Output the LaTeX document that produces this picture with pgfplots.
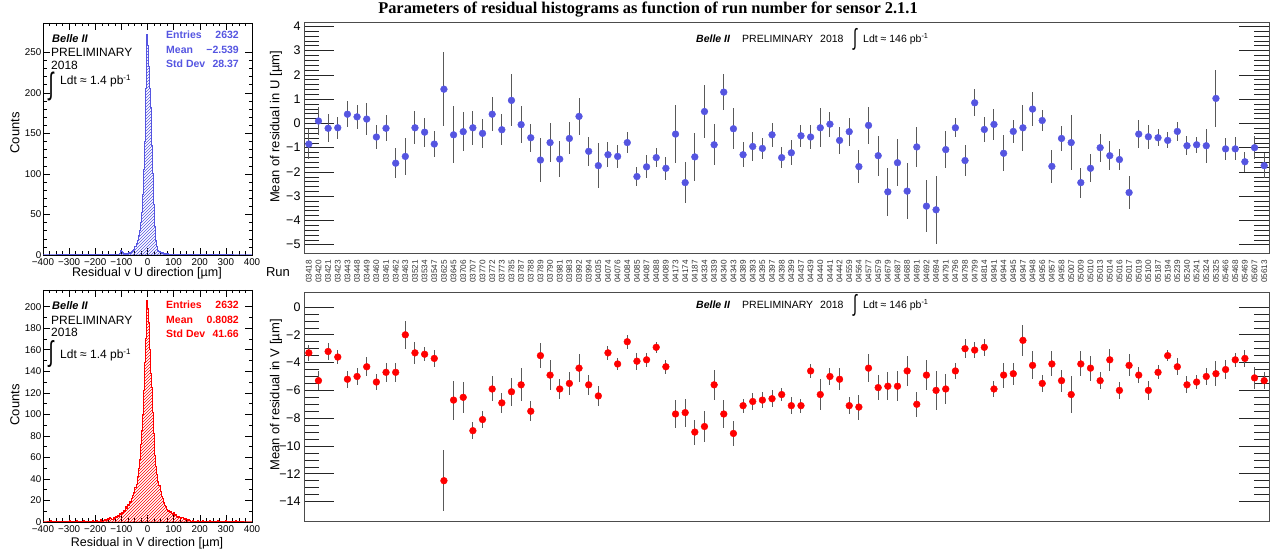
\documentclass[border=0pt]{standalone}
\usepackage{fontspec}
\setmainfont{Liberation Sans}
\newfontfamily\titlefont{Liberation Serif}
\usepackage{graphicx}
\usepackage{pgfplots}
\pgfplotsset{compat=1.18}
\usepackage{pgfplotstable}
\usetikzlibrary{patterns}
\definecolor{ublue}{RGB}{85,85,225}
\definecolor{vred}{RGB}{255,0,0}

\pgfplotstableread{
i v e
0 -0.85 0.60
1 0.10 0.57
2 -0.20 0.58
3 -0.18 0.45
4 0.38 0.53
5 0.27 0.49
6 0.18 0.65
7 -0.56 0.51
8 -0.20 0.53
9 -1.64 0.62
10 -1.36 0.77
11 -0.18 0.68
12 -0.36 0.60
13 -0.85 0.55
14 1.41 1.53
15 -0.47 1.18
16 -0.34 0.80
17 -0.18 0.69
18 -0.41 0.59
19 0.38 0.70
20 -0.26 0.63
21 0.95 1.07
22 -0.05 0.75
23 -0.59 0.58
24 -1.51 0.92
25 -0.79 0.79
26 -1.47 0.75
27 -0.62 0.66
28 0.29 0.77
29 -1.15 0.59
30 -1.74 0.94
31 -1.29 0.51
32 -1.36 0.46
33 -0.79 0.44
34 -2.19 0.39
35 -1.79 0.47
36 -1.41 0.38
37 -1.85 0.48
38 -0.44 1.18
39 -2.44 0.84
40 -1.38 0.98
41 0.49 1.08
42 -0.88 0.84
43 1.29 0.74
44 -0.22 0.85
45 -1.29 0.52
46 -0.95 0.61
47 -1.03 0.44
48 -0.47 0.50
49 -1.41 0.44
50 -1.21 0.52
51 -0.51 0.45
52 -0.56 0.51
53 -0.18 0.81
54 -0.03 0.51
55 -0.70 0.55
56 -0.34 0.58
57 -1.78 0.67
58 -0.08 0.77
59 -1.33 0.82
60 -2.82 0.99
61 -1.62 0.96
62 -2.79 1.16
63 -0.97 0.84
64 -3.41 1.07
65 -3.56 1.40
66 -1.08 0.77
67 -0.18 0.40
68 -1.53 0.62
69 0.85 0.56
70 -0.25 0.52
71 -0.04 0.63
72 -1.23 0.74
73 -0.33 0.47
74 -0.18 0.95
75 0.59 0.70
76 0.12 0.45
77 -1.77 0.67
78 -0.62 0.51
79 -0.79 1.14
80 -2.44 0.62
81 -1.85 0.58
82 -1.00 0.58
83 -1.33 0.60
84 -1.49 0.42
85 -2.85 0.68
86 -0.44 0.58
87 -0.55 0.50
88 -0.59 0.34
89 -0.70 0.33
90 -0.33 0.40
91 -0.92 0.39
92 -0.88 0.34
93 -0.92 0.71
94 1.03 1.16
95 -1.05 0.45
96 -1.05 0.47
97 -1.58 0.41
98 -1.00 0.47
99 -1.74 0.51
}\Udata

\pgfplotstableread{
i v e
0 -3.3 0.6
1 -5.3 0.7
2 -3.2 0.6
3 -3.6 0.5
4 -5.2 0.6
5 -5.0 0.6
6 -4.3 0.7
7 -5.4 0.6
8 -4.7 0.7
9 -4.7 0.7
10 -2.0 1.0
11 -3.3 0.8
12 -3.4 0.5
13 -3.7 0.6
14 -12.5 2.2
15 -6.7 1.4
16 -6.5 1.1
17 -8.9 0.6
18 -8.1 0.6
19 -5.9 0.9
20 -6.9 0.7
21 -6.1 1.0
22 -5.6 1.2
23 -7.5 0.7
24 -3.5 0.9
25 -4.9 1.1
26 -5.9 0.7
27 -5.5 0.8
28 -4.4 1.0
29 -5.6 0.7
30 -6.4 0.7
31 -3.3 0.5
32 -4.1 0.4
33 -2.5 0.5
34 -3.9 0.6
35 -3.8 0.5
36 -2.9 0.4
37 -4.3 0.5
38 -7.7 1.0
39 -7.6 1.0
40 -9.0 0.9
41 -8.6 1.1
42 -5.6 1.1
43 -7.7 1.0
44 -9.1 0.9
45 -7.1 0.5
46 -6.8 0.6
47 -6.7 0.6
48 -6.6 0.6
49 -6.3 0.5
50 -7.1 0.6
51 -7.1 0.5
52 -4.6 0.5
53 -6.3 1.1
54 -5.0 0.6
55 -5.2 0.8
56 -7.1 0.6
57 -7.2 0.9
58 -4.4 1.0
59 -5.8 0.9
60 -5.7 1.0
61 -5.7 1.1
62 -4.6 1.1
63 -7.0 0.9
64 -4.9 1.1
65 -6.0 1.4
66 -5.9 1.1
67 -4.6 0.6
68 -3.0 0.7
69 -3.1 0.6
70 -2.9 0.6
71 -5.9 0.6
72 -4.9 0.9
73 -4.8 0.8
74 -2.4 1.1
75 -4.2 1.0
76 -5.5 0.6
77 -4.1 0.9
78 -5.3 0.8
79 -6.3 1.3
80 -4.1 0.9
81 -4.4 0.9
82 -5.3 0.6
83 -3.8 0.8
84 -6.0 0.6
85 -4.2 0.8
86 -4.9 0.6
87 -6.0 0.7
88 -4.7 0.5
89 -3.5 0.4
90 -4.3 0.6
91 -5.6 0.6
92 -5.4 0.5
93 -5.0 0.6
94 -4.8 0.9
95 -4.5 0.7
96 -3.8 0.5
97 -3.7 0.6
98 -5.1 0.8
99 -5.3 0.6
}\Vdata

\pgfplotsset{
  rightplot/.style={
    anchor=south west, scale only axis, width=965pt,
    xmin=-0.5, xmax=99.5, xtick={0,...,99},
    xtick style={draw=none},
    major tick length=30pt, minor tick length=15pt,
    axis line style={black!70, line width=0.9pt},
    y tick style={black!85, line width=0.6pt},
    y tick label style={font=\fontsize{12.5}{13}\selectfont},
  },
  histplot/.style={
    anchor=south west, scale only axis, width=209pt, height=232pt,
    xmin=-400, xmax=400,
    xtick={-400,-300,...,400},
    xticklabels={−400,−300,−200,−100,0,100,200,300,400},
    minor x tick num=3, minor y tick num=4,
    major tick length=7pt, minor tick length=3.5pt,
    tick label style={font=\fontsize{9.8}{10}\selectfont},
    yticklabel style={inner sep=1.5pt},
    axis line style={black, line width=0.6pt},
    tick style={black, line width=0.5pt},
  },
}

\newcommand{\bigint}[2]{\resizebox*{#1}{#2}{∫}}

\begin{document}
\begin{tikzpicture}[x=1pt,y=1pt]
\path[use as bounding box] (0,0) rectangle (1276,553);

% ---------- top right: mean U ----------
\begin{axis}[rightplot, at={(304pt,300pt)}, height=231pt,
  ymin=-5.34, ymax=4.18, ytick={-5,...,4},
  yticklabels={−5,−4,−3,−2,−1,0,1,2,3,4},
  minor y tick num=4,
  xticklabels={03418,03420,03421,03423,03443,03448,03449,03460,03461,03462,03463,03521,03534,03547,03625,03645,03706,03707,03770,03772,03773,03785,03787,03788,03789,03790,03981,03983,03992,03994,04035,04074,04076,04084,04085,04087,04088,04089,04173,04174,04187,04334,04339,04340,04343,04389,04393,04395,04397,04398,04399,04437,04439,04440,04441,04442,04559,04564,04577,04579,04679,04687,04688,04691,04692,04694,04791,04796,04798,04799,04814,04941,04944,04945,04947,04948,04956,04957,04958,05007,05009,05010,05013,05014,05016,05017,05019,05100,05187,05194,05239,05240,05241,05324,05325,05466,05468,05469,05607,05613},
  xticklabel style={rotate=90, anchor=east, inner sep=0pt, font=\fontsize{8.2}{9}\selectfont, text=black!80},
  xticklabel shift=7pt,
]
\addplot[only marks, mark=*, mark size=3.4pt, color=ublue,
  error bars/.cd, y dir=both, y explicit, error mark=none,
  error bar style={black!65, line width=1pt}]
  table[x=i, y=v, y error=e] {\Udata};
\end{axis}

% ---------- bottom right: mean V ----------
\begin{axis}[rightplot, at={(304pt,32pt)}, height=229pt,
  ymin=-15.4, ymax=1.08, ytick={-14,-12,...,0},
  yticklabels={−14,−12,−10,−8,−6,−4,−2,0},
  minor y tick num=3,
  xticklabels={},
]
\addplot[only marks, mark=*, mark size=3.4pt, color=vred,
  error bars/.cd, y dir=both, y explicit, error mark=none,
  error bar style={black!65, line width=1pt}]
  table[x=i, y=v, y error=e] {\Vdata};
\end{axis}

% ---------- top left: U histogram ----------
\begin{axis}[histplot, at={(43pt,298pt)}, ymin=0, ymax=286,
  ytick={0,50,...,250}, yticklabels={0,50,100,150,200,250}]
\addplot[const plot mark left, draw=ublue, line width=1pt,
  pattern=north east lines, pattern color=ublue] coordinates {
(-400,0)(-300,1)(-296,0)(-200,1)(-196,0)(-150,1)(-146,0)(-128,1)(-124,0)(-116,1)(-112,0)
(-108,2)(-104,5)(-100,4)(-96,3)(-92,1)(-88,2)(-84,1)(-80,2)(-76,1)(-72,3)(-68,2)(-64,3)(-60,4)
(-56,5)(-52,7)(-48,10)(-44,14)(-40,18)(-36,24)(-32,30)(-28,40)(-24,52)(-20,75)(-16,105)(-12,140)
(-8,205)(-4,272)(0,258)(4,232)(8,205)(12,182)(16,135)(20,100)(24,62)(28,35)(32,18)(36,10)(40,6)
(44,4)(48,3)(52,2)(56,3)(60,2)(64,1)(68,2)(72,1)(76,2)(80,1)(84,0)(92,1)(96,0)(120,1)(124,0)
(180,1)(184,0)(260,1)(264,0)(400,0)} \closedcycle;
\end{axis}

% ---------- bottom left: V histogram ----------
\begin{axis}[histplot, at={(43pt,31pt)}, ymin=0, ymax=215.5,
  ytick={0,20,...,200}, yticklabels={0,20,40,60,80,100,120,140,160,180,200},
  minor y tick num=1]
\addplot[const plot mark left, draw=vred, line width=1pt,
  pattern=north east lines, pattern color=vred] coordinates {
(-400,0)(-372,1)(-368,0)(-300,1)(-296,0)(-272,1)(-268,0)(-244,1)(-240,0)(-212,1)(-208,0)(-196,1)(-192,0)
(-180,2)(-176,0)(-168,1)(-164,2)(-160,1)(-156,2)(-152,3)(-148,2)(-144,4)(-140,3)(-136,2)(-132,4)(-128,3)
(-124,5)(-120,4)(-116,6)(-112,5)(-108,8)(-104,7)(-100,9)(-96,8)(-92,11)(-88,10)(-84,14)(-80,13)(-76,16)
(-72,15)(-68,19)(-64,18)(-60,22)(-56,25)(-52,27)(-48,32)(-44,35)(-40,42)(-36,50)(-32,58)(-28,72)(-24,85)
(-20,100)(-16,122)(-12,148)(-8,170)(-4,206)(0,198)(4,185)(8,160)(12,138)(16,125)(20,102)(24,82)(28,62)
(32,52)(36,44)(40,38)(44,34)(48,28)(52,24)(56,22)(60,18)(64,15)(68,14)(72,12)(76,10)(80,11)(84,9)(88,10)
(92,8)(96,7)(100,9)(104,6)(108,7)(112,5)(116,4)(120,5)(124,4)(128,3)(132,4)(136,3)(140,2)(144,3)(148,2)
(152,1)(156,2)(160,1)(164,0)(172,1)(176,0)(192,1)(196,0)(212,1)(216,0)(236,1)(240,0)(268,1)(272,0)
(300,1)(304,0)(336,1)(340,0)(400,0)} \closedcycle;
\end{axis}

% ---------- texts ----------
\node[font=\titlefont\bfseries\fontsize{16.4}{18}\selectfont] at (648,543) {Parameters of residual histograms as function of run number for sensor 2.1.1};

% U histogram annotations
\node[anchor=west, inner sep=0pt, font=\fontsize{11}{12}\selectfont\bfseries\itshape] at (52,514) {Belle II};
\node[anchor=west, inner sep=0pt, font=\fontsize{12}{13}\selectfont] at (51,501) {PRELIMINARY};
\node[anchor=west, inner sep=0pt, font=\fontsize{12}{13}\selectfont] at (51,488) {2018};
\node[inner sep=0pt] at (51,467) {\bigint{5pt}{29pt}};
\node[anchor=west, inner sep=0pt, font=\fontsize{12}{13}\selectfont] at (60,472) {Ldt ≈ 1.4 pb\textsuperscript{-1}};
\begin{scope}[font=\fontsize{10.5}{11}\selectfont\bfseries, text=ublue]
\node[anchor=west, inner sep=0pt] at (166,518) {Entries};
\node[anchor=east, inner sep=0pt] at (239,518) {2632};
\node[anchor=west, inner sep=0pt] at (166,503) {Mean};
\node[anchor=east, inner sep=0pt] at (239,503) {−2.539};
\node[anchor=west, inner sep=0pt] at (166,489) {Std Dev};
\node[anchor=east, inner sep=0pt] at (239,489) {28.37};
\end{scope}
\node[rotate=90, font=\fontsize{13}{14}\selectfont] at (15,420) {Counts};
\node[font=\fontsize{12.5}{13}\selectfont] at (147,280) {Residual v U direction [µm]};

% V histogram annotations
\node[anchor=west, inner sep=0pt, font=\fontsize{11}{12}\selectfont\bfseries\itshape] at (52,247) {Belle II};
\node[anchor=west, inner sep=0pt, font=\fontsize{12}{13}\selectfont] at (51,233) {PRELIMINARY};
\node[anchor=west, inner sep=0pt, font=\fontsize{12}{13}\selectfont] at (51,221) {2018};
\node[inner sep=0pt] at (51,199) {\bigint{5pt}{27pt}};
\node[anchor=west, inner sep=0pt, font=\fontsize{12}{13}\selectfont] at (60,198) {Ldt ≈ 1.4 pb\textsuperscript{-1}};
\begin{scope}[font=\fontsize{10.5}{11}\selectfont\bfseries, text=vred]
\node[anchor=west, inner sep=0pt] at (166,248) {Entries};
\node[anchor=east, inner sep=0pt] at (239,248) {2632};
\node[anchor=west, inner sep=0pt] at (166,233) {Mean};
\node[anchor=east, inner sep=0pt] at (239,233) {0.8082};
\node[anchor=west, inner sep=0pt] at (166,219) {Std Dev};
\node[anchor=east, inner sep=0pt] at (239,219) {41.66};
\end{scope}
\node[rotate=90, font=\fontsize{13}{14}\selectfont] at (15,148) {Counts};
\node[font=\fontsize{12.5}{13}\selectfont] at (147,10) {Residual in V direction [µm]};

% right plots annotations
\foreach \yy in {514,248} {
  \node[anchor=west, inner sep=0pt, font=\fontsize{10.5}{11}\selectfont] at (696,\yy) {\textbf{\textit{Belle II}}\hspace{12pt}PRELIMINARY\hspace{7pt}2018};
  \node[inner sep=0pt] at (855,\yy) {\bigint{4pt}{22pt}};
  \node[anchor=west, inner sep=0pt, font=\fontsize{10.5}{11}\selectfont] at (863,\yy) {Ldt ≈ 146 pb\textsuperscript{-1}};
}
\node[rotate=90, font=\fontsize{13}{14}\selectfont] at (276,426) {Mean of residual in U [µm]};
\node[rotate=90, font=\fontsize{13}{14}\selectfont] at (276,158) {Mean of residual in V [µm]};
\node[font=\fontsize{13}{14}\selectfont] at (278,281) {Run};
\end{tikzpicture}
\end{document}
